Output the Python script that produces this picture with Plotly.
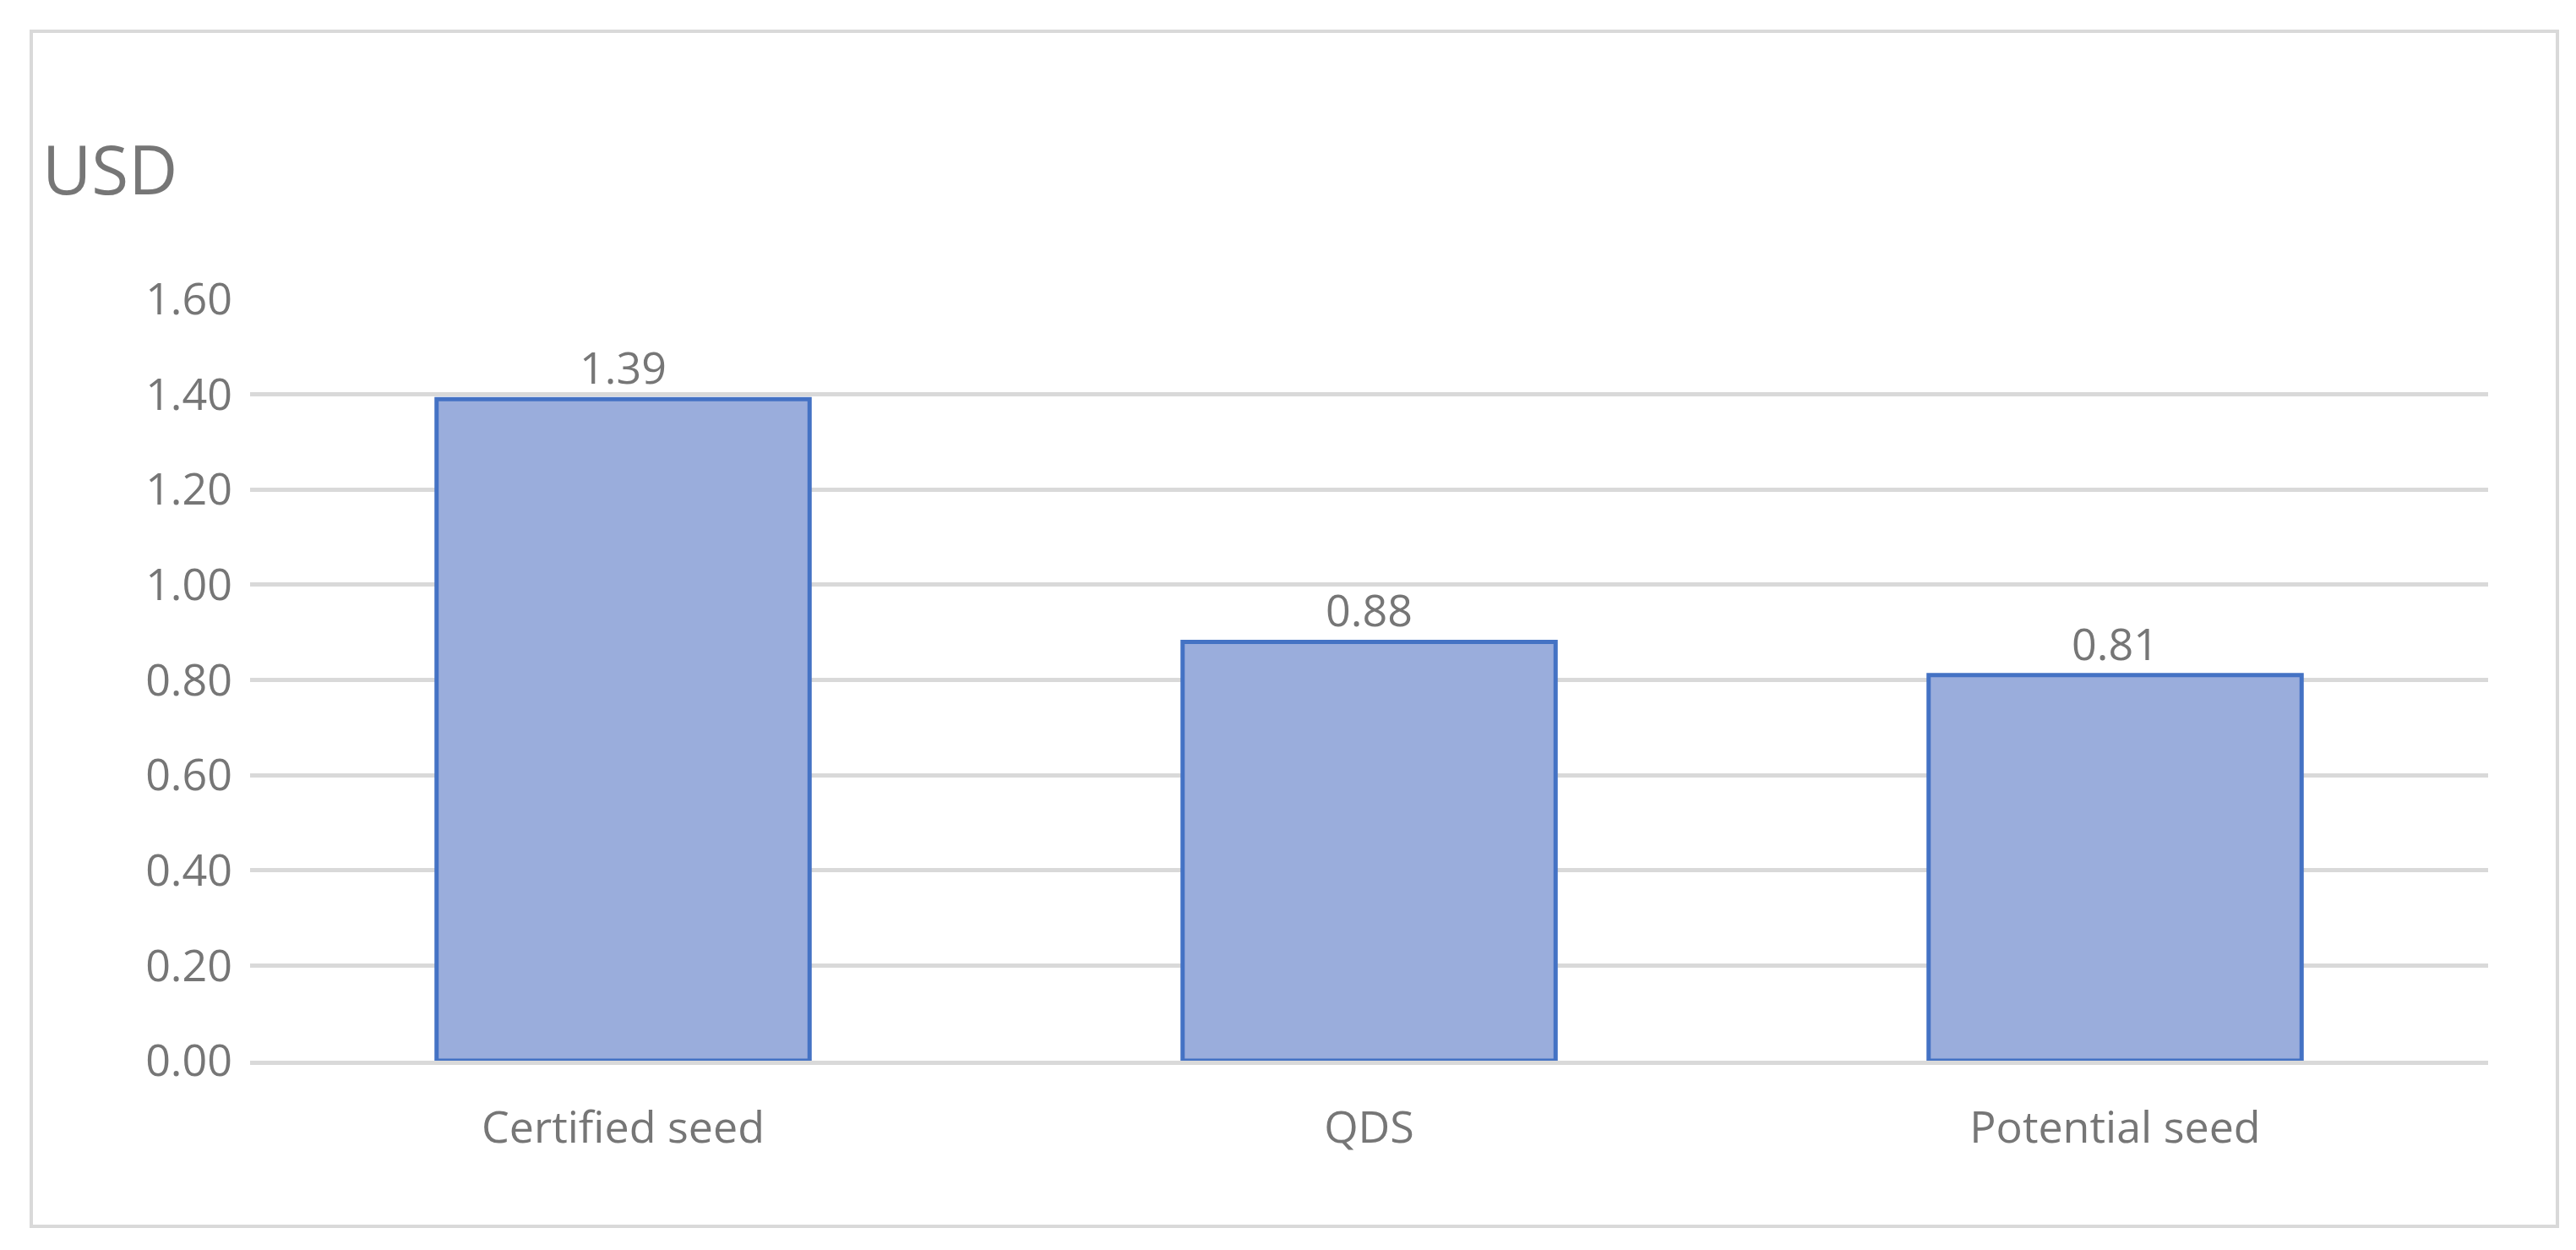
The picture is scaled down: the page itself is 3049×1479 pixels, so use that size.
import plotly.graph_objects as go

categories = ["Certified seed", "QDS", "Potential seed"]
values = [1.39, 0.88, 0.81]
tick_vals = [0, 0.2, 0.4, 0.6, 0.8, 1.0, 1.2, 1.4, 1.6]

W, H = 3049, 1479
L, R, T, B = 288, 112, 346, 232
pw, ph = W - L - R, H - T - B

grey = "#767676"
font = "Open Sans"

fig = go.Figure()
fig.add_trace(go.Bar(
    x=categories, y=values, width=0.5,
    marker=dict(color="#9AADDC", line=dict(color="#4472C4", width=5)),
    text=[f"{v:.2f}" for v in values], textposition="outside",
    textfont=dict(size=52, color=grey, family=font),
    cliponaxis=False,
))

fig.update_layout(
    width=W, height=H, margin=dict(l=L, r=R, t=T, b=B),
    plot_bgcolor="white", paper_bgcolor="white",
    showlegend=False, bargap=0.5,
    font=dict(family=font, color=grey, size=52),
)
fig.update_yaxes(range=[0, 1.6], tickvals=tick_vals, tickformat=".2f",
                 gridcolor="#D9D9D9", gridwidth=5, zeroline=False,
                 ticklabelstandoff=20, tickfont=dict(size=52, color=grey))
fig.update_xaxes(showline=True, linecolor="#D9D9D9", linewidth=5,
                 ticklabelstandoff=30, tickfont=dict(size=52, color=grey))

# outer chart border
fig.add_shape(type="rect", xref="paper", yref="paper",
              x0=(29 - L) / pw, x1=(3019 - L) / pw,
              y0=(H - B - 1443) / ph, y1=(H - B - 29) / ph,
              line=dict(color="#D9D9D9", width=4))

fig.add_annotation(text="USD", xref="paper", yref="paper",
                   x=(40 - L) / pw, y=(H - B - 190) / ph,
                   xanchor="left", yanchor="middle", showarrow=False,
                   font=dict(size=80, color=grey, family=font))

fig.write_html("out.html")
